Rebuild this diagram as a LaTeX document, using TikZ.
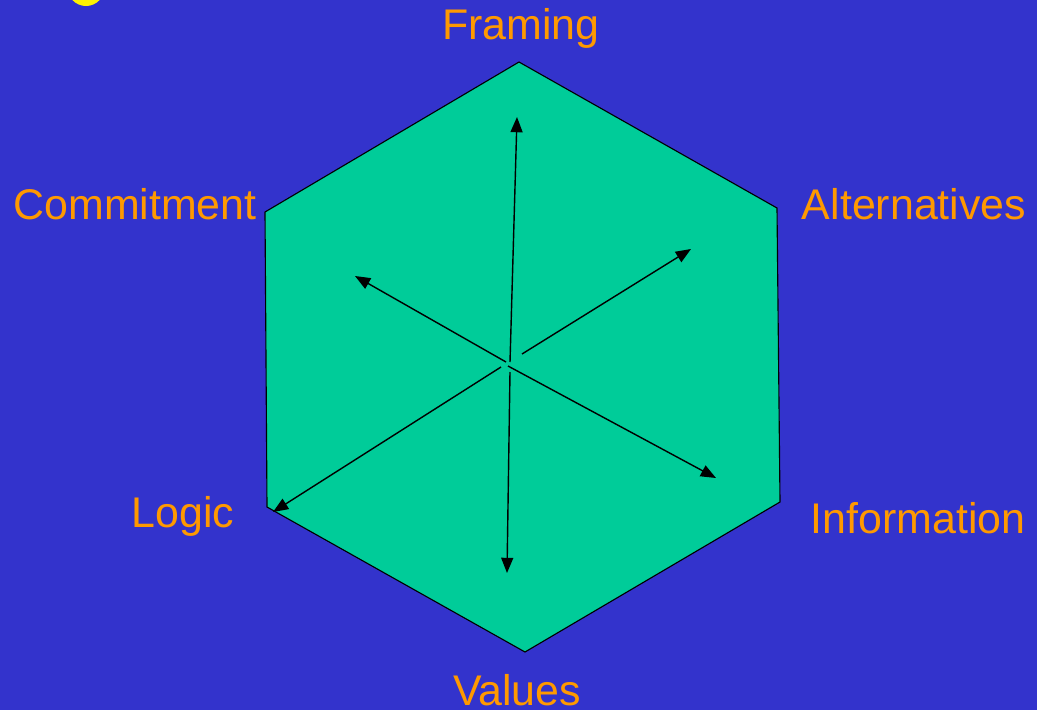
\documentclass[tikz,border=0pt]{standalone}
\usepackage{fontspec}
\setmainfont{Liberation Sans}
\usetikzlibrary{arrows.meta}
\definecolor{bgblue}{HTML}{3333CC}
\definecolor{hexgreen}{HTML}{00CC99}
\definecolor{lblorange}{HTML}{FF9900}
\begin{document}
\begin{tikzpicture}[x=0.025cm, y=-0.025cm, >={Triangle[length=0.38cm, width=0.3cm]},
    lbl/.style={text=lblorange, font=\fontsize{30.5}{36}\selectfont, inner sep=0pt}]
    \fill[bgblue] (0,0) rectangle (1037,710);
    \useasboundingbox (0,0) rectangle (1037,710);
    % cut-off title letter
    \begin{scope}
        \clip (0,0) rectangle (1037,710);
        \draw[yellow, line width=0.2cm] (86,-14) ellipse (15 and 16);
    \end{scope}
    % hexagon
    \coordinate (t) at (519,62);
    \coordinate (ur) at (777,208);
    \coordinate (lr) at (780,502);
    \coordinate (b) at (525,652);
    \coordinate (ll) at (267,507);
    \coordinate (ul) at (265,212);
    \filldraw[fill=hexgreen, draw=black, line width=0.8pt]
        (t) -- (ur) -- (lr) -- (b) -- (ll) -- (ul) -- cycle;
    % arrows from the middle
    \coordinate (cu) at (510,362);
    \coordinate (cur) at (522,354);
    \coordinate (cul) at (506,362);
    \coordinate (cd) at (510,372);
    \coordinate (clr) at (508,366);
    \coordinate (cll) at (501,367);
    \coordinate (au) at (517,117);
    \coordinate (aur) at (691,249);
    \coordinate (aul) at (355,276);
    \coordinate (ad) at (507,573);
    \coordinate (alr) at (716,478);
    \coordinate (all) at (273,512);
    \draw[->, line width=1pt] (cu) -- (au);
    \draw[->, line width=1pt] (cur) -- (aur);
    \draw[->, line width=1pt] (cul) -- (aul);
    \draw[->, line width=1pt] (cd) -- (ad);
    \draw[->, line width=1pt] (clr) -- (alr);
    \draw[->, line width=1pt] (cll) -- (all);
    % labels
    \node[lbl] (framing) at (521,28) {Framing};
    \node[lbl] (commit) at (135,204) {Commitment};
    \node[lbl] (alt) at (914,204) {Alternatives};
    \node[lbl] (logic) at (183,516) {Logic};
    \node[lbl] (info) at (918,518) {Information};
    \node[lbl, text depth=0pt, anchor=base] (values) at (517,705) {Values};
\end{tikzpicture}
\end{document}
